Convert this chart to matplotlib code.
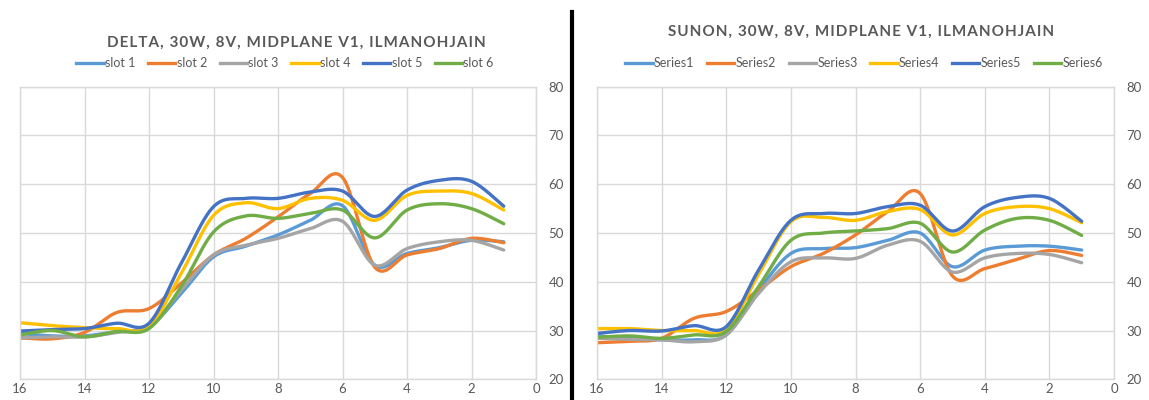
import numpy as np
import matplotlib
matplotlib.use("Agg")
import matplotlib.pyplot as plt
from matplotlib.lines import Line2D

# ---------------- data ----------------
x_vals = [16, 15, 14, 13, 12, 11, 10, 9, 8, 7, 6, 5, 4, 3, 2, 1]

left_title = "DELTA, 30W, 8V, MIDPLANE V1, ILMANOHJAIN"
left_labels = ["slot 1", "slot 2", "slot 3", "slot 4", "slot 5", "slot 6"]
left_slot1 = [29.4, 28.9, 28.9, 29.8, 30.8, 37.6, 45.1, 47.3, 49.6, 52.6, 55.6, 43.4, 45.8, 47.0, 48.5, 48.2]
left_slot2 = [28.5, 28.3, 29.6, 33.7, 34.5, 39.7, 45.5, 48.9, 53.3, 58.1, 61.4, 43.0, 45.5, 46.8, 48.9, 48.0]
left_slot3 = [28.5, 28.7, 28.7, 29.6, 30.8, 38.3, 45.5, 47.5, 48.9, 50.9, 52.4, 43.4, 46.8, 48.2, 48.5, 46.5]
left_slot4 = [31.6, 31.0, 30.6, 30.4, 30.8, 41.7, 53.6, 56.2, 55.0, 57.1, 56.7, 52.6, 57.7, 58.6, 58.1, 54.7]
left_slot5 = [29.9, 30.2, 30.4, 31.5, 31.5, 43.8, 55.4, 57.1, 57.1, 58.4, 58.6, 53.4, 58.8, 60.8, 60.6, 55.5]
left_slot6 = [29.1, 30.0, 28.7, 29.8, 30.4, 39.0, 50.2, 53.5, 53.0, 54.0, 54.7, 49.0, 54.7, 56.0, 55.0, 51.9]

right_title = "SUNON, 30W, 8V, MIDPLANE V1, ILMANOHJAIN"
right_labels = ["Series1", "Series2", "Series3", "Series4", "Series5", "Series6"]
right_s1 = [28.9, 28.4, 28.1, 28.1, 29.1, 38.3, 45.8, 46.8, 47.0, 48.5, 50.0, 43.1, 46.5, 47.3, 47.3, 46.5]
right_s2 = [27.5, 27.8, 28.4, 32.5, 33.9, 38.3, 43.1, 45.8, 49.6, 54.4, 58.1, 41.2, 42.7, 44.6, 46.4, 45.4]
right_s3 = [28.4, 28.2, 28.1, 27.7, 29.1, 37.6, 44.1, 44.9, 44.8, 47.5, 48.3, 42.0, 44.9, 45.8, 45.6, 43.9]
right_s4 = [30.4, 30.4, 30.0, 30.0, 30.2, 41.5, 52.3, 53.2, 52.6, 54.4, 54.8, 49.6, 54.0, 55.4, 55.0, 52.1]
right_s5 = [29.4, 30.0, 29.9, 31.0, 30.8, 42.4, 52.6, 54.0, 54.0, 55.4, 55.7, 50.4, 55.4, 57.3, 57.1, 52.4]
right_s6 = [28.6, 28.9, 28.4, 29.1, 29.8, 39.0, 48.5, 50.0, 50.4, 50.9, 52.0, 46.1, 50.6, 53.0, 52.6, 49.5]

x_ticks = [16, 14, 12, 10, 8, 6, 4, 2, 0]
y_ticks = [20, 30, 40, 50, 60, 70, 80]

colors = ["#5B9BD5", "#ED7D31", "#A5A5A5", "#FFC000", "#4472C4", "#70AD47"]
TXT = "#595959"
GRID = "#D9D9D9"


def smooth(x, y, n=24):
    """Catmull-Rom smoothing (as Excel's smoothed lines) for drawing."""
    pts = np.column_stack([np.asarray(x, float), np.asarray(y, float)])
    P = np.vstack([pts[0], pts, pts[-1]])
    t = np.linspace(0, 1, n, endpoint=False)[:, None]
    segs = []
    for i in range(1, len(P) - 2):
        p0, p1, p2, p3 = P[i - 1], P[i], P[i + 1], P[i + 2]
        seg = 0.5 * ((2 * p1) + (-p0 + p2) * t
                     + (2 * p0 - 5 * p1 + 4 * p2 - p3) * t ** 2
                     + (-p0 + 3 * p1 - 3 * p2 + p3) * t ** 3)
        segs.append(seg)
    segs.append(pts[-1:])
    s = np.vstack(segs)
    return s[:, 0], s[:, 1]


def spaced(s):
    return "\u200a".join(s)


plt.rcParams['font.family'] = ['Lato', 'DejaVu Sans']

W, H = 1149, 400
fig = plt.figure(figsize=(W / 100, H / 100), dpi=100)


def px_axes(x0, x1, ytop, ybot):
    return fig.add_axes([x0 / W, 1 - ybot / H, (x1 - x0) / W, (ybot - ytop) / H])


def draw_panel(ax, series, labels, title, title_xy, legend_xy, colspacing):
    for s, c, lab in zip(series, colors, labels):
        sx, sy = smooth(x_vals, s)
        ax.plot(sx, sy, color=c, lw=2.4, label=lab, solid_capstyle='round')
    ax.set_xlim(16, 0)
    ax.set_ylim(20, 80)
    ax.set_xticks(x_ticks)
    ax.set_yticks(y_ticks)
    ax.yaxis.tick_right()
    ax.grid(True, color=GRID, lw=1.0)
    ax.set_axisbelow(True)
    for sp in ax.spines.values():
        sp.set_color(GRID)
        sp.set_linewidth(1.0)
    ax.tick_params(axis='both', length=0, colors=TXT, labelsize=9.5)
    ax.tick_params(axis='x', pad=3)
    ax.tick_params(axis='y', pad=9)
    fig.text(title_xy[0] / W, 1 - title_xy[1] / H, spaced(title), ha='center', va='center',
             fontsize=11, fontweight='bold', color=TXT)
    handles = [Line2D([0], [0], color=c, lw=2.4) for c in colors]
    fig.legend(handles, labels, loc='center', ncol=6, frameon=False,
               bbox_to_anchor=(legend_xy[0] / W, 1 - legend_xy[1] / H),
               fontsize=9, labelcolor=TXT, handlelength=2.2, handletextpad=0.1,
               columnspacing=colspacing)


axL = px_axes(20, 536, 86.7, 379.3)
draw_panel(axL, [left_slot1, left_slot2, left_slot3, left_slot4, left_slot5, left_slot6],
           left_labels, left_title, (296, 43), (285, 63), 1.0)

axR = px_axes(597, 1114, 86.7, 379.3)
draw_panel(axR, [right_s1, right_s2, right_s3, right_s4, right_s5, right_s6],
           right_labels, right_title, (861, 32), (864, 63), 1.0)

# black separator
fig.add_artist(Line2D([572 / W, 572 / W], [1 - 12 / H, 0], transform=fig.transFigure,
                      color='black', lw=3.0))

fig.savefig("out.png", dpi=100)
